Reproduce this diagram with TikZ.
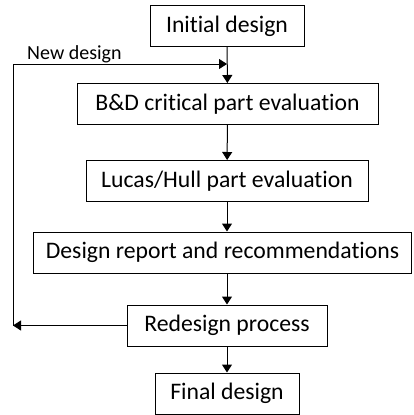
\documentclass[tikz,border=0pt]{standalone}
\usepackage{fontspec}
\setmainfont[Ligatures=NoCommon]{Carlito}
\usetikzlibrary{arrows.meta}
\begin{document}
\begin{tikzpicture}[x=1pt,y=-1pt,
  box/.style={draw,line width=1pt,minimum height=41pt,inner sep=0pt,font=\fontsize{23.7}{28}\selectfont},
  arr/.style={line width=1pt,-{Triangle[length=8pt,width=10pt]}}]
\useasboundingbox (0,0) rectangle (413,415);
\node[box,minimum width=154pt](init) at (227,26){Initial design};
 \node[box,minimum width=301pt](bd) at (227.5,104){B\&D critical part evaluation};
 \node[box,minimum width=282pt](lucas) at (227,181){Lucas/Hull part evaluation};
 \node[box,minimum width=378pt](report) at (222.5,252.5){Design report and recommendations};
 \node[box,minimum width=200pt](redesign) at (227,325.5){Redesign process};
 \node[box,minimum width=144pt](final) at (227,393.5){Final design};
 \coordinate (j) at (227,64);
 \coordinate (back) at (13,325.5);
 \node[anchor=west,inner sep=0pt,font=\fontsize{20}{24}\selectfont](new) at (27,54){New design};

% feedback loop
 \draw [arr] (init) -- (bd);
 \draw [arr] (bd) -- (lucas);
 \draw [arr] (lucas) -- (lucas|-report.north);
 \draw [arr] (lucas|-report.south) -- (redesign);
 \draw [arr] (redesign) -- (final);
 \draw [arr] (redesign) -- (back);
 \draw [arr] (back) |- (j);
\end{tikzpicture}
\end{document}
